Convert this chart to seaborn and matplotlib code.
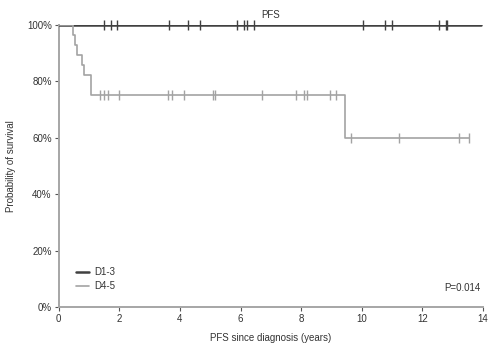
import numpy as np
import pandas as pd
import matplotlib
matplotlib.use('Agg')
import matplotlib.pyplot as plt
import seaborn as sns

# D1-3: no events, flat at 100%
d13_times = [0.0, 13.95]
d13_surv = [1.0, 1.0]
d13_censor = [1.51, 1.72, 1.91, 3.65, 4.26, 4.66, 5.87, 6.10, 6.20, 6.45,
              10.04, 10.75, 11.0, 12.54, 12.77, 12.81]

# D4-5: step changes
d45_times = [0.0, 0.46, 0.53, 0.59, 0.77, 0.83, 1.05, 9.46, 13.55]
d45_surv = [1.0, 0.964, 0.929, 0.893, 0.857, 0.821, 0.75, 0.60, 0.60]
d45_censor = [1.37, 1.51, 1.64, 1.99, 3.61, 3.75, 4.15, 5.08, 5.16, 6.70,
              7.82, 8.10, 8.20, 8.96, 9.15, 9.64, 11.22, 13.22, 13.55]

x_ticks = [0, 2, 4, 6, 8, 10, 12, 14]
y_ticks = [0, 0.2, 0.4, 0.6, 0.8, 1.0]

c_dark = '#404040'
c_light = '#a3a3a3'
c_axis = '#a6a6a6'

sns.set_style('white')
plt.rcParams['font.family'] = ['Liberation Sans', 'DejaVu Sans']

fig = plt.figure(figsize=(5.0, 3.51), dpi=100)
ax = fig.add_axes([0.1174, 0.1245, 0.8486, 0.8051])


def surv_at(times, surv, t):
    i = np.searchsorted(times, t, side='right') - 1
    return np.array(surv)[i]


d13 = pd.DataFrame({'t': d13_times, 's': d13_surv})
d45 = pd.DataFrame({'t': d45_times, 's': d45_surv})

sns.lineplot(data=d13, x='t', y='s', drawstyle='steps-post', color=c_dark,
             lw=1.8, ax=ax, label='D1-3', zorder=3)
sns.lineplot(data=d45, x='t', y='s', drawstyle='steps-post', color=c_light,
             lw=1.2, ax=ax, label='D4-5', zorder=4)

c45 = pd.DataFrame({'t': d45_censor, 's': surv_at(d45_times, d45_surv, d45_censor)})
c13 = pd.DataFrame({'t': d13_censor, 's': surv_at(d13_times, d13_surv, d13_censor)})
sns.scatterplot(data=c45, x='t', y='s', marker='|', s=45, color=c_light,
                linewidth=1.0, ax=ax, zorder=5, clip_on=False)
sns.scatterplot(data=c13, x='t', y='s', marker='|', s=55, color=c_dark,
                linewidth=1.0, ax=ax, zorder=5, clip_on=False)

ax.set_xlim(0, 14)
ax.set_ylim(0, 1.0)
ax.set_xticks(x_ticks)
ax.set_xticklabels([str(v) for v in x_ticks])
ax.set_yticks(y_ticks)
ax.set_yticklabels([f'{int(round(v * 100))}%' for v in y_ticks])

for side in ['top', 'right']:
    ax.spines[side].set_visible(False)
for side in ['left', 'bottom']:
    ax.spines[side].set_color(c_axis)
    ax.spines[side].set_linewidth(1.4)

ax.tick_params(axis='both', which='major', direction='out', length=3, width=0.8,
               color='#555555', labelsize=7, labelcolor='#333333', pad=2,
               bottom=True, left=True)

ax.set_xlabel('PFS since diagnosis (years)', fontsize=7, color='#333333', labelpad=6)
ax.set_ylabel('Probability of survival', fontsize=7, color='#333333', labelpad=8)
ax.set_title('PFS', fontsize=7, color='#333333', pad=5)

handles, labels = ax.get_legend_handles_labels()
ax.legend(handles, labels,
          loc='lower left', bbox_to_anchor=(0.02, 0.025), frameon=False,
          fontsize=7, handlelength=1.3, handletextpad=0.6, labelspacing=0.45,
          labelcolor='#333333')

ax.text(0.995, 0.07, 'P=0.014', transform=ax.transAxes, ha='right', va='center',
        fontsize=7, color='#333333')

fig.savefig('out.png', dpi=100)
